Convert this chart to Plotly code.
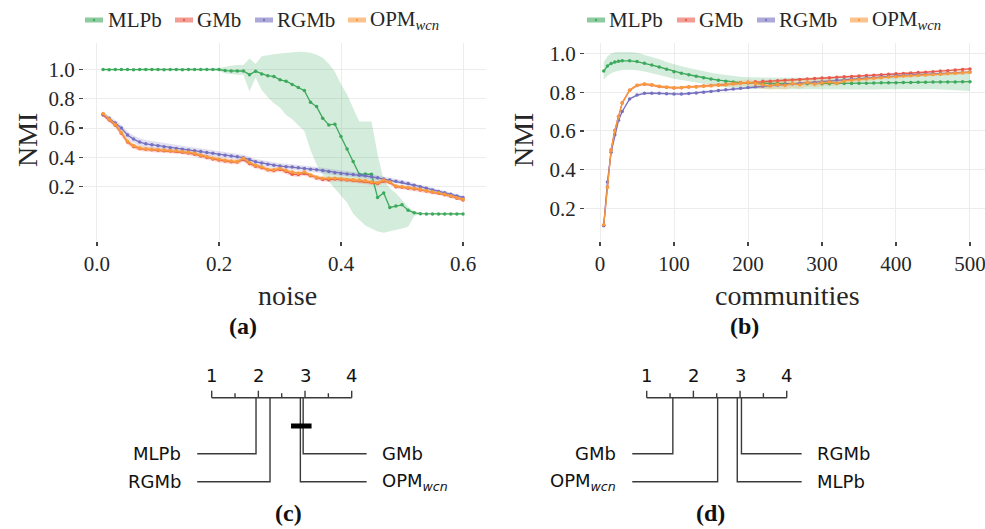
import plotly.graph_objects as go

W, H = 985, 529
SERIF = "Liberation Serif"
SANS = "DejaVu Sans"
TXT = "#262626"

# ---------------- series meta ----------------
names = ["MLPb", "GMb", "RGMb", "OPM<sub><i>wcn</i></sub>"]
colors = ["#3da95c", "#ea5a4b", "#7570c0", "#f99a3d"]

# ---------------- panel (a): NMI vs noise ----------------
noise = [0.01, 0.02, 0.03, 0.04, 0.05, 0.06, 0.07, 0.08, 0.09, 0.10,
         0.11, 0.12, 0.13, 0.14, 0.15, 0.16, 0.17, 0.18, 0.19, 0.20,
         0.21, 0.22, 0.23, 0.24, 0.25, 0.26, 0.27, 0.28, 0.29, 0.30,
         0.31, 0.32, 0.33, 0.34, 0.35, 0.36, 0.37, 0.38, 0.39, 0.40,
         0.41, 0.42, 0.43, 0.44, 0.45, 0.46, 0.47, 0.48, 0.49, 0.50,
         0.51, 0.52, 0.53, 0.54, 0.55, 0.56, 0.57, 0.58, 0.59, 0.60]

mlpb_a = [1.000, 0.999, 1.000, 1.000, 1.000, 0.999, 1.000, 1.000, 1.000, 1.000,
          0.999, 1.000, 1.000, 0.999, 1.000, 1.000, 1.000, 1.000, 1.000, 1.000,
          0.993, 0.990, 0.990, 0.990, 0.965, 0.988, 0.970, 0.957, 0.953, 0.930,
          0.920, 0.897, 0.878, 0.856, 0.776, 0.747, 0.668, 0.622, 0.627, 0.542,
          0.458, 0.372, 0.285, 0.286, 0.285, 0.127, 0.157, 0.058, 0.068, 0.076,
          0.040, 0.022, 0.016, 0.014, 0.014, 0.014, 0.014, 0.014, 0.014, 0.014]
mlpb_a_hi = [1.002, 1.002, 1.002, 1.002, 1.002, 1.002, 1.002, 1.002, 1.002, 1.002,
             1.002, 1.002, 1.002, 1.002, 1.002, 1.002, 1.002, 1.002, 1.002, 1.010,
             1.020, 1.025, 1.030, 1.030, 1.076, 1.037, 1.090, 1.100, 1.105, 1.110,
             1.115, 1.120, 1.121, 1.120, 1.115, 1.100, 1.080, 1.040, 0.985, 0.900,
             0.830, 0.735, 0.645, 0.645, 0.645, 0.420, 0.246, 0.190, 0.155, 0.110,
             0.064, 0.032, 0.022, 0.018, 0.018, 0.018, 0.018, 0.018, 0.018, 0.018]
mlpb_a_lo = [0.998, 0.998, 0.998, 0.998, 0.998, 0.998, 0.998, 0.998, 0.998, 0.998,
             0.998, 0.998, 0.998, 0.998, 0.998, 0.998, 0.998, 0.998, 0.998, 0.990,
             0.972, 0.968, 0.965, 0.965, 0.850, 0.945, 0.860, 0.810, 0.770, 0.740,
             0.690, 0.660, 0.620, 0.580, 0.450, 0.350, 0.280, 0.235, 0.190, 0.140,
             0.090, 0.015, -0.025, -0.065, -0.085, -0.105, -0.114, -0.105, -0.095, -0.085,
             -0.073, 0.000, 0.012, 0.010, 0.010, 0.010, 0.010, 0.010, 0.010, 0.010]

gmb_a = [0.690, 0.655, 0.620, 0.565, 0.505, 0.475, 0.460, 0.455, 0.452, 0.448,
         0.446, 0.443, 0.440, 0.436, 0.430, 0.422, 0.410, 0.400, 0.390, 0.382,
         0.375, 0.370, 0.368, 0.385, 0.358, 0.340, 0.330, 0.315, 0.310, 0.318,
         0.303, 0.285, 0.283, 0.290, 0.275, 0.260, 0.250, 0.248, 0.252, 0.250,
         0.245, 0.242, 0.240, 0.235, 0.228, 0.222, 0.238, 0.228, 0.200, 0.196,
         0.190, 0.185, 0.178, 0.170, 0.162, 0.155, 0.145, 0.135, 0.122, 0.110]
gmb_a_err = [0.014, 0.016, 0.018, 0.019, 0.019, 0.018, 0.017, 0.016, 0.016, 0.016,
             0.016, 0.016, 0.015, 0.015, 0.015, 0.016, 0.016, 0.016, 0.016, 0.016,
             0.016, 0.016, 0.017, 0.017, 0.017, 0.017, 0.016, 0.016, 0.016, 0.016,
             0.016, 0.016, 0.016, 0.016, 0.016, 0.016, 0.015, 0.015, 0.015, 0.015,
             0.015, 0.015, 0.015, 0.015, 0.015, 0.015, 0.015, 0.015, 0.014, 0.014,
             0.014, 0.014, 0.013, 0.013, 0.013, 0.012, 0.012, 0.012, 0.011, 0.011]

rgmb_a = [0.695, 0.667, 0.635, 0.600, 0.553, 0.525, 0.505, 0.493, 0.487, 0.480,
          0.472, 0.466, 0.460, 0.455, 0.450, 0.446, 0.440, 0.434, 0.428, 0.420,
          0.415, 0.410, 0.405, 0.398, 0.385, 0.370, 0.362, 0.354, 0.347, 0.341,
          0.337, 0.334, 0.330, 0.325, 0.320, 0.316, 0.310, 0.303, 0.295, 0.291,
          0.287, 0.283, 0.279, 0.275, 0.268, 0.261, 0.253, 0.246, 0.238, 0.230,
          0.222, 0.210, 0.200, 0.190, 0.178, 0.168, 0.158, 0.148, 0.137, 0.127]
rgmb_a_err = [0.015, 0.018, 0.020, 0.022, 0.024, 0.025, 0.025, 0.025, 0.024, 0.024,
              0.024, 0.023, 0.023, 0.023, 0.022, 0.022, 0.022, 0.022, 0.021, 0.021,
              0.021, 0.021, 0.020, 0.020, 0.020, 0.020, 0.020, 0.020, 0.020, 0.019,
              0.019, 0.019, 0.019, 0.019, 0.019, 0.018, 0.018, 0.018, 0.018, 0.018,
              0.017, 0.017, 0.017, 0.017, 0.016, 0.016, 0.016, 0.016, 0.015, 0.015,
              0.015, 0.014, 0.014, 0.014, 0.013, 0.013, 0.012, 0.012, 0.011, 0.011]

opm_a = [0.700, 0.660, 0.625, 0.570, 0.510, 0.480, 0.465, 0.458, 0.455, 0.452,
         0.450, 0.447, 0.445, 0.440, 0.435, 0.428, 0.415, 0.405, 0.395, 0.388,
         0.380, 0.375, 0.372, 0.394, 0.365, 0.345, 0.335, 0.318, 0.315, 0.325,
         0.310, 0.300, 0.292, 0.300, 0.280, 0.265, 0.258, 0.257, 0.258, 0.255,
         0.250, 0.247, 0.245, 0.240, 0.232, 0.227, 0.245, 0.232, 0.205, 0.200,
         0.195, 0.190, 0.182, 0.172, 0.165, 0.158, 0.148, 0.138, 0.125, 0.114]
opm_a_err = [0.012, 0.014, 0.015, 0.016, 0.016, 0.015, 0.014, 0.013, 0.013, 0.013,
             0.013, 0.013, 0.012, 0.012, 0.012, 0.013, 0.013, 0.013, 0.013, 0.013,
             0.013, 0.013, 0.014, 0.014, 0.014, 0.014, 0.013, 0.013, 0.013, 0.013,
             0.013, 0.013, 0.013, 0.013, 0.013, 0.013, 0.012, 0.012, 0.012, 0.012,
             0.012, 0.012, 0.012, 0.012, 0.012, 0.012, 0.012, 0.012, 0.011, 0.011,
             0.011, 0.011, 0.011, 0.011, 0.010, 0.010, 0.010, 0.010, 0.010, 0.010]

# ---------------- panel (b): NMI vs communities ----------------
communities = [5, 10, 15, 20, 25, 30, 40, 50, 60, 70,
               80, 90, 100, 110, 120, 130, 140, 150, 160, 170,
               180, 190, 200, 210, 220, 230, 240, 250, 260, 270,
               280, 290, 300, 310, 320, 330, 340, 350, 360, 370,
               380, 390, 400, 410, 420, 430, 440, 450, 460, 470,
               480, 490, 500]

mlpb_b = [0.909, 0.935, 0.948, 0.956, 0.960, 0.962, 0.962, 0.958, 0.950, 0.940,
          0.930, 0.918, 0.906, 0.898, 0.890, 0.882, 0.875, 0.868, 0.862, 0.857,
          0.853, 0.849, 0.847, 0.846, 0.846, 0.846, 0.845, 0.844, 0.844, 0.844,
          0.844, 0.844, 0.844, 0.844, 0.845, 0.845, 0.845, 0.846, 0.846, 0.847,
          0.848, 0.849, 0.849, 0.850, 0.850, 0.851, 0.851, 0.852, 0.852, 0.853,
          0.853, 0.854, 0.854]
mlpb_b_err = [0.045, 0.050, 0.050, 0.050, 0.048, 0.047, 0.046, 0.045, 0.043, 0.041,
              0.040, 0.038, 0.037, 0.036, 0.035, 0.034, 0.033, 0.032, 0.032, 0.031,
              0.031, 0.030, 0.030, 0.030, 0.030, 0.030, 0.030, 0.030, 0.030, 0.030,
              0.030, 0.030, 0.030, 0.031, 0.031, 0.031, 0.032, 0.032, 0.032, 0.033,
              0.033, 0.033, 0.034, 0.034, 0.035, 0.035, 0.036, 0.036, 0.038, 0.040,
              0.043, 0.046, 0.048]

gmb_b = [0.113, 0.310, 0.502, 0.602, 0.674, 0.745, 0.810, 0.835, 0.841, 0.837,
         0.829, 0.825, 0.822, 0.823, 0.827, 0.828, 0.832, 0.834, 0.837, 0.840,
         0.844, 0.848, 0.851, 0.854, 0.856, 0.857, 0.859, 0.861, 0.863, 0.866,
         0.868, 0.870, 0.873, 0.875, 0.877, 0.879, 0.881, 0.884, 0.886, 0.888,
         0.890, 0.893, 0.895, 0.897, 0.899, 0.901, 0.903, 0.906, 0.909, 0.911,
         0.914, 0.917, 0.920]
gmb_b_err = [0.008, 0.010, 0.010, 0.009, 0.008, 0.007, 0.006, 0.006, 0.006, 0.006,
             0.006, 0.006, 0.006, 0.006, 0.006, 0.006, 0.006, 0.006, 0.006, 0.006,
             0.006, 0.006, 0.006, 0.006, 0.006, 0.006, 0.006, 0.006, 0.006, 0.006,
             0.006, 0.006, 0.006, 0.006, 0.006, 0.006, 0.006, 0.006, 0.006, 0.006,
             0.006, 0.006, 0.006, 0.006, 0.006, 0.006, 0.006, 0.006, 0.006, 0.006,
             0.006, 0.006, 0.006]

rgmb_b = [0.110, 0.336, 0.490, 0.580, 0.655, 0.700, 0.765, 0.785, 0.794, 0.795,
          0.794, 0.792, 0.790, 0.790, 0.793, 0.796, 0.800, 0.804, 0.808, 0.812,
          0.816, 0.820, 0.824, 0.828, 0.831, 0.834, 0.837, 0.840, 0.843, 0.846,
          0.848, 0.851, 0.854, 0.857, 0.861, 0.864, 0.868, 0.871, 0.874, 0.876,
          0.879, 0.882, 0.885, 0.887, 0.889, 0.891, 0.893, 0.895, 0.897, 0.899,
          0.900, 0.902, 0.904]
rgmb_b_err = [0.008, 0.010, 0.010, 0.009, 0.008, 0.007, 0.006, 0.006, 0.006, 0.006,
              0.006, 0.006, 0.006, 0.006, 0.006, 0.006, 0.006, 0.006, 0.006, 0.006,
              0.006, 0.006, 0.006, 0.006, 0.006, 0.006, 0.006, 0.006, 0.006, 0.006,
              0.006, 0.006, 0.006, 0.006, 0.006, 0.006, 0.006, 0.006, 0.006, 0.006,
              0.006, 0.006, 0.006, 0.006, 0.006, 0.006, 0.006, 0.006, 0.006, 0.006,
              0.006, 0.006, 0.006]

opm_b = [0.115, 0.308, 0.500, 0.600, 0.672, 0.743, 0.810, 0.836, 0.842, 0.838,
         0.830, 0.826, 0.823, 0.824, 0.828, 0.827, 0.831, 0.833, 0.836, 0.838,
         0.843, 0.846, 0.850, 0.845, 0.838, 0.832, 0.840, 0.834, 0.845, 0.838,
         0.850, 0.842, 0.848, 0.852, 0.846, 0.858, 0.862, 0.866, 0.868, 0.872,
         0.875, 0.878, 0.880, 0.883, 0.885, 0.887, 0.889, 0.891, 0.893, 0.896,
         0.898, 0.900, 0.903]
opm_b_err = [0.008, 0.010, 0.010, 0.010, 0.010, 0.009, 0.008, 0.008, 0.008, 0.008,
             0.008, 0.008, 0.008, 0.008, 0.008, 0.008, 0.008, 0.009, 0.010, 0.011,
             0.012, 0.014, 0.016, 0.018, 0.020, 0.020, 0.022, 0.022, 0.020, 0.020,
             0.020, 0.018, 0.018, 0.016, 0.014, 0.012, 0.011, 0.010, 0.010, 0.010,
             0.009, 0.009, 0.009, 0.009, 0.009, 0.009, 0.009, 0.009, 0.009, 0.009,
             0.009, 0.010, 0.010]

nmi_ticks = [0.2, 0.4, 0.6, 0.8, 1.0]
nmi_ticktext = ["0.2", "0.4", "0.6", "0.8", "1.0"]
noise_ticks = [0.0, 0.2, 0.4, 0.6]
noise_ticktext = ["0.0", "0.2", "0.4", "0.6"]
comm_ticks = [0, 100, 200, 300, 400, 500]

# ---------------- panels (c), (d): critical difference diagrams ----------------
cd_ticks = [1, 1.5, 2, 2.5, 3, 3.5, 4]
cd_ticklabels = ["1", "2", "3", "4"]
cd_c_methods = ["MLPb", "RGMb", "OPM<sub><i>wcn</i></sub>", "GMb"]
cd_c_ranks = [1.95, 2.25, 2.90, 2.96]
cd_c_clique = [2.90, 2.96]
cd_d_methods = ["GMb", "OPM<sub><i>wcn</i></sub>", "MLPb", "RGMb"]
cd_d_ranks = [1.56, 2.52, 2.94, 3.03]

for nm, arr, ref in [("mlpb_a", mlpb_a, noise), ("mlpb_a_hi", mlpb_a_hi, noise), ("mlpb_a_lo", mlpb_a_lo, noise),
                     ("gmb_a", gmb_a, noise), ("gmb_a_err", gmb_a_err, noise), ("rgmb_a", rgmb_a, noise),
                     ("rgmb_a_err", rgmb_a_err, noise), ("opm_a", opm_a, noise), ("opm_a_err", opm_a_err, noise),
                     ("mlpb_b", mlpb_b, communities), ("mlpb_b_err", mlpb_b_err, communities),
                     ("gmb_b", gmb_b, communities), ("gmb_b_err", gmb_b_err, communities),
                     ("rgmb_b", rgmb_b, communities), ("rgmb_b_err", rgmb_b_err, communities),
                     ("opm_b", opm_b, communities), ("opm_b_err", opm_b_err, communities)]:
    if len(arr) != len(ref):
        raise ValueError(f"{nm}: {len(arr)} vs {len(ref)}")


def rgba(h, a):
    h = h.lstrip("#")
    return f"rgba({int(h[0:2], 16)},{int(h[2:4], 16)},{int(h[4:6], 16)},{a})"


fig = go.Figure()


def add_series(x, mean, lo, hi, color, xa, ya):
    fig.add_trace(go.Scatter(x=list(x) + list(x)[::-1], y=list(hi) + list(lo)[::-1],
                             fill="toself", fillcolor=rgba(color, 0.22), line=dict(width=0),
                             mode="lines", hoverinfo="skip", showlegend=False, xaxis=xa, yaxis=ya))
    fig.add_trace(go.Scatter(x=x, y=mean, mode="lines+markers",
                             line=dict(color=color, width=1.3),
                             marker=dict(size=3.5, color=color, line=dict(width=0)),
                             showlegend=False, xaxis=xa, yaxis=ya))


def band(mean, err):
    return [m - e for m, e in zip(mean, err)], [m + e for m, e in zip(mean, err)]


# panel (a)
add_series(noise, mlpb_a, mlpb_a_lo, mlpb_a_hi, colors[0], "x", "y")
for mean, err, col in [(gmb_a, gmb_a_err, colors[1]), (rgmb_a, rgmb_a_err, colors[2]),
                       (opm_a, opm_a_err, colors[3])]:
    lo, hi = band(mean, err)
    add_series(noise, mean, lo, hi, col, "x", "y")

# panel (b)
for mean, err, col in [(mlpb_b, mlpb_b_err, colors[0]), (gmb_b, gmb_b_err, colors[1]),
                       (rgmb_b, rgmb_b_err, colors[2]), (opm_b, opm_b_err, colors[3])]:
    lo, hi = band(mean, err)
    add_series(communities, mean, lo, hi, col, "x2", "y2")

annotations = []
shapes = []

# CD diagrams (in rank units on hidden axes)
CD_LINE = "#3a3a3a"
ROW_Y = [2.0, 3.0]
LINE_LEFT, LINE_RIGHT = 0.69, 4.32
LABEL_LEFT, LABEL_RIGHT = 0.38, 4.61


def draw_cd(methods, ranks, xa, ya, clique=None):
    fig.add_trace(go.Scatter(x=[cd_ticks[0], cd_ticks[-1]], y=[0, 0], mode="lines",
                             line=dict(color=CD_LINE, width=1.4), hoverinfo="skip",
                             showlegend=False, xaxis=xa, yaxis=ya))
    tx, ty = [], []
    for t in cd_ticks:
        top = -0.25 if float(t).is_integer() else -0.16
        tx += [t, t, None]
        ty += [0, top, None]
    fig.add_trace(go.Scatter(x=tx, y=ty, mode="lines", line=dict(color=CD_LINE, width=1.4),
                             hoverinfo="skip", showlegend=False, xaxis=xa, yaxis=ya))
    major = [t for t in cd_ticks if float(t).is_integer()]
    for t, lab in zip(major, cd_ticklabels):
        annotations.append(dict(x=t, y=-0.8, xref=xa, yref=ya, text=lab, showarrow=False,
                                xanchor="center", yanchor="middle",
                                font=dict(family=SANS, size=18, color="#111")))
    order = sorted(range(len(ranks)), key=lambda i: ranks[i])
    half = len(order) // 2
    left = order[:half]
    right = order[half:][::-1]
    for row, i in enumerate(left):
        r = ranks[i]
        fig.add_trace(go.Scatter(x=[r, r, LINE_LEFT], y=[0, ROW_Y[row], ROW_Y[row]], mode="lines",
                                 line=dict(color=CD_LINE, width=1.4), hoverinfo="skip",
                                 showlegend=False, xaxis=xa, yaxis=ya))
        annotations.append(dict(x=LABEL_LEFT, y=ROW_Y[row], xref=xa, yref=ya, text=methods[i],
                                showarrow=False, xanchor="right", yanchor="middle",
                                font=dict(family=SANS, size=18, color="#111")))
    for row, i in enumerate(right):
        r = ranks[i]
        fig.add_trace(go.Scatter(x=[r, r, LINE_RIGHT], y=[0, ROW_Y[row], ROW_Y[row]], mode="lines",
                                 line=dict(color=CD_LINE, width=1.4), hoverinfo="skip",
                                 showlegend=False, xaxis=xa, yaxis=ya))
        annotations.append(dict(x=LABEL_RIGHT, y=ROW_Y[row], xref=xa, yref=ya, text=methods[i],
                                showarrow=False, xanchor="left", yanchor="middle",
                                font=dict(family=SANS, size=18, color="#111")))
    if clique:
        fig.add_trace(go.Scatter(x=[clique[0] - 0.2, clique[1] + 0.18], y=[1.01, 1.01], mode="lines",
                                 line=dict(color="#000", width=5), hoverinfo="skip",
                                 showlegend=False, xaxis=xa, yaxis=ya))


draw_cd(cd_c_methods, cd_c_ranks, "x3", "y3", cd_c_clique)
draw_cd(cd_d_methods, cd_d_ranks, "x4", "y4")


def PX(x):
    return x / W


def PY(y):
    return 1 - y / H


# legends (manual, patch + label)
leg_a = ([85, 175, 255, 348], [106, 195, 275, 368])
leg_b = ([587, 677, 757, 850], [607, 697, 777, 870])
for patches, texts in (leg_a, leg_b):
    for px, tx, nm, col in zip(patches, texts, names, colors):
        shapes.append(dict(type="rect", xref="paper", yref="paper", x0=PX(px), x1=PX(px + 18),
                           y0=PY(22.5), y1=PY(17.5), fillcolor=rgba(col, 0.6), line=dict(width=0)))
        shapes.append(dict(type="circle", xref="paper", yref="paper", x0=PX(px + 7.8), x1=PX(px + 10.2),
                           y0=PY(21.2), y1=PY(18.8), fillcolor=rgba(col, 0.9), line=dict(width=0)))
        annotations.append(dict(x=PX(tx), y=PY(20), xref="paper", yref="paper", text=nm,
                                showarrow=False, xanchor="left", yanchor="middle",
                                font=dict(family=SERIF, size=21, color=TXT)))

# axis titles and captions
for x, y, txt, ang in [(27, 140, "NMI", -90), (523, 140, "NMI", -90),
                       (287, 295, "noise", 0), (787, 295, "communities", 0)]:
    annotations.append(dict(x=PX(x), y=PY(y), xref="paper", yref="paper", text=txt, textangle=ang,
                            showarrow=False, xanchor="center", yanchor="middle",
                            font=dict(family=SERIF, size=28, color=TXT)))
for x, y, txt in [(243, 326, "(a)"), (744, 326, "(b)"), (288, 513, "(c)"), (710, 513, "(d)")]:
    annotations.append(dict(x=PX(x), y=PY(y), xref="paper", yref="paper", text=f"<b>{txt}</b>",
                            showarrow=False, xanchor="center", yanchor="middle",
                            font=dict(family=SERIF, size=24, color="#111")))

axis_common = dict(showgrid=True, gridcolor="#ececec", gridwidth=1, zeroline=False, showline=False,
                   ticks="outside", ticklen=4, tickwidth=1.3, tickcolor="#444",
                   tickfont=dict(family=SERIF, size=21, color=TXT), fixedrange=True,
                   ticklabeloverflow="allow")
ydom = [1 - 241 / H, 1 - 43 / H]
hidden = dict(visible=False, fixedrange=True)

fig.update_layout(
    width=W, height=H, margin=dict(l=0, r=0, t=0, b=0),
    paper_bgcolor="white", plot_bgcolor="white", showlegend=False,
    xaxis=dict(domain=[84 / W, 486 / W], range=[-0.0213, 0.6377], anchor="y",
               tickvals=noise_ticks, ticktext=noise_ticktext, **axis_common),
    yaxis=dict(domain=ydom, range=[-0.1706, 1.181], anchor="x",
               tickvals=nmi_ticks, ticktext=nmi_ticktext, **axis_common),
    xaxis2=dict(domain=[585 / W, 1.0], range=[-20.3, 520.3], anchor="y2",
                tickvals=comm_ticks, **axis_common),
    yaxis2=dict(domain=ydom, range=[0.031, 1.054], anchor="x2",
                tickvals=nmi_ticks, ticktext=nmi_ticktext, **axis_common),
    xaxis3=dict(domain=[100 / W, 480 / W], range=[-1.393, 6.749], anchor="y3", **hidden),
    yaxis3=dict(domain=[0, 179 / H], range=[4.689, -1.704], anchor="x3", **hidden),
    xaxis4=dict(domain=[520 / W, 900 / W], range=[-1.715, 6.427], anchor="y4", **hidden),
    yaxis4=dict(domain=[0, 179 / H], range=[4.689, -1.704], anchor="x4", **hidden),
    annotations=annotations, shapes=shapes,
)

fig.write_html("out.html", config={"displayModeBar": False, "staticPlot": True},
               post_script="document.body.style.margin='0';document.body.style.padding='0';"
                           "document.body.style.overflow='hidden';")
